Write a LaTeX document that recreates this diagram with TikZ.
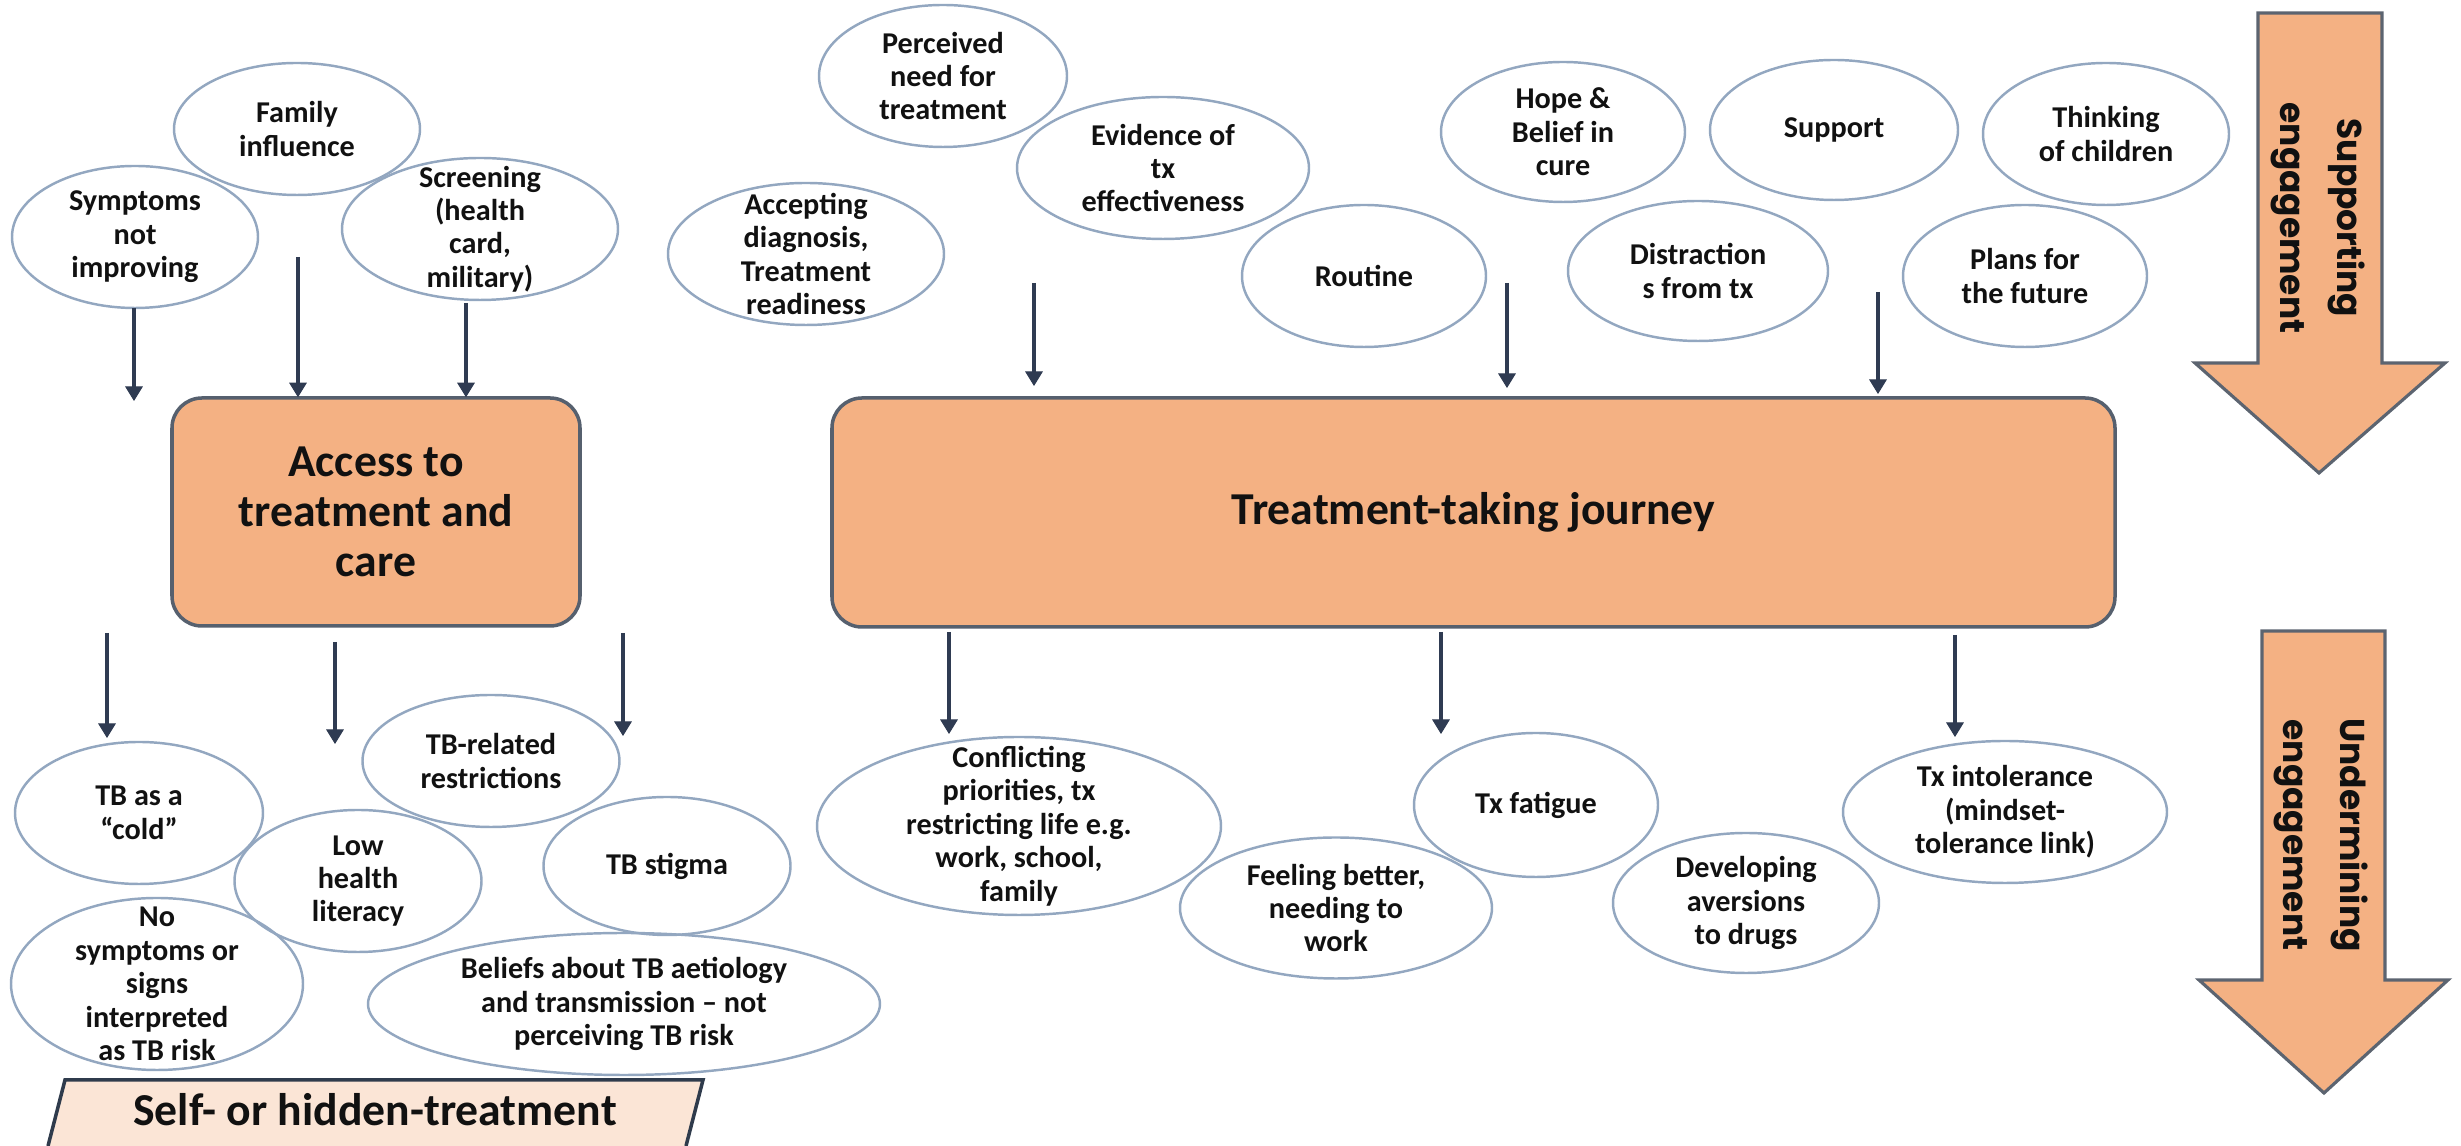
\documentclass[tikz,border=0pt]{standalone}
\usepackage{fontspec}
\usetikzlibrary{shapes.geometric}
\setmainfont{Carlito}
\newfontfamily\arrowfont{Poppins}

\definecolor{boxfill}{HTML}{F4B183}
\definecolor{boxline}{HTML}{56606E}
\definecolor{bubbleline}{HTML}{93A7C0}
\definecolor{flowline}{HTML}{2F3B52}
\definecolor{bigline}{HTML}{5C6470}
\definecolor{selffill}{HTML}{FBE5D6}
\definecolor{selfline}{HTML}{2F3B4C}
\definecolor{txt}{HTML}{111111}

\begin{document}
\begin{tikzpicture}[
  bubble/.style={ellipse, draw=bubbleline, line width=0.7pt, inner xsep=-3cm, inner ysep=-3cm,
    align=center, text=txt, font=\fontsize{8.6}{9.5}\selectfont\bfseries},
  stage/.style={draw=boxline, line width=1pt, fill=boxfill, rounded corners=0.3cm,
    align=center, text=txt, font=\fontsize{13}{14.2}\selectfont\bfseries},
  flow/.style={draw=flowline, line width=1pt},
  tip/.style={draw=flowline, fill=flowline, line width=0.3pt},
  bigarrow/.style={draw=bigline, line width=0.9pt, fill=boxfill},
  arrowtext/.style={rotate=-90, align=center, text=txt, font=\arrowfont\fontsize{9.8}{16.2}\selectfont\bfseries}
]
\useasboundingbox (0,0) rectangle (24.61,11.46);
%\draw [lightgray](0,0) grid (24, 11);

% the two stages
\node [stage, minimum width=4.08cm, minimum height=2.28cm] (access) at (3.76,6.34) {Access to\\treatment and\\care};
\node [stage, minimum width=12.83cm, minimum height=2.29cm] (journey) at (14.735,6.335) {Treatment-taking journey};

% factors before access
\node [bubble, minimum width=2.46cm, minimum height=1.42cm] (symp) at (1.35,9.09) {Symptoms\\not\\improving};
\node [bubble, minimum width=2.46cm, minimum height=1.32cm] (fam) at (2.97,10.17) {Family\\influence};
\node [bubble, minimum width=2.76cm, minimum height=1.42cm] (scr) at (4.80,9.17) {Screening\\(health\\card,\\military)};

% factors supporting the journey
\node [bubble, minimum width=2.48cm, minimum height=1.42cm] (perc) at (9.43,10.70) {Perceived\\need for\\treatment};
\node [bubble, minimum width=2.92cm, minimum height=1.42cm] (evid) at (11.63,9.78) {Evidence of\\tx\\effectiveness};
\node [bubble, minimum width=2.76cm, minimum height=1.42cm] (accept) at (8.06,8.92) {Accepting\\diagnosis,\\Treatment\\readiness};
\node [bubble, minimum width=2.44cm, minimum height=1.42cm] (rout) at (13.64,8.70) {Routine};
\node [bubble, minimum width=2.44cm, minimum height=1.40cm] (hope) at (15.63,10.14) {Hope \&\\Belief in\\cure};
\node [bubble, minimum width=2.48cm, minimum height=1.40cm] (supp) at (18.34,10.16) {Support};
\node [bubble, minimum width=2.46cm, minimum height=1.42cm] (think) at (21.06,10.12) {Thinking\\of children};
\node [bubble, minimum width=2.60cm, minimum height=1.40cm] (dist) at (16.98,8.75) {Distraction\\s from tx};
\node [bubble, minimum width=2.44cm, minimum height=1.42cm] (plans) at (20.25,8.70) {Plans for\\the future};

% factors after access
\node [bubble, minimum width=2.48cm, minimum height=1.42cm] (cold) at (1.39,3.33) {TB as a\\“cold”};
\node [bubble, minimum width=2.57cm, minimum height=1.32cm] (restr) at (4.91,3.85) {TB-related\\restrictions};
\node [bubble, minimum width=2.47cm, minimum height=1.42cm] (lit) at (3.58,2.65) {Low\\health\\literacy};
\node [bubble, minimum width=2.47cm, minimum height=1.38cm] (stigma) at (6.67,2.80) {TB stigma};
\node [bubble, minimum width=2.92cm, minimum height=1.72cm] (nosym) at (1.57,1.62) {No\\symptoms or\\signs\\interpreted\\as TB risk};
\node [bubble, minimum width=5.12cm, minimum height=1.42cm] (belief) at (6.24,1.42) {Beliefs about TB aetiology\\and transmission – not\\perceiving TB risk};

% factors undermining the journey
\node [bubble, minimum width=4.04cm, minimum height=1.78cm] (confl) at (10.19,3.20) {Conflicting\\priorities, tx\\restricting life e.g.\\work, school,\\family};
\node [bubble, minimum width=3.12cm, minimum height=1.41cm] (feel) at (13.36,2.38) {Feeling better,\\needing to\\work};
\node [bubble, minimum width=2.44cm, minimum height=1.44cm] (fatig) at (15.36,3.41) {Tx fatigue};
\node [bubble, minimum width=2.66cm, minimum height=1.40cm] (aver) at (17.46,2.43) {Developing\\aversions\\to drugs};
\node [bubble, minimum width=3.24cm, minimum height=1.42cm] (intol) at (20.05,3.34) {Tx intolerance\\(mindset-\\tolerance link)};

% self- or hidden-treatment, cut by the page edge
\fill [selffill] (0.48,0) -- (0.65,0.66) -- (7.03,0.66) -- (6.86,0) -- cycle;
\draw [selfline, line width=1pt] (0.48,0) -- (0.65,0.66) -- (7.03,0.66) -- (6.86,0);
\node [text=txt, font=\fontsize{13}{14.2}\selectfont\bfseries] (self) at (3.75,0.36) {Self- or hidden-treatment};

% arrows into access
\coordinate (acsA-s) at (1.34,8.38);
\coordinate (acsA-e) at (1.34,7.46);
\coordinate (acsB-s) at (2.98,8.89);
\coordinate (acsC-s) at (4.66,8.43);
\draw [flow] (acsA-s) -- ([yshift=1mm]acsA-e);
\draw [tip] (acsA-e) -- ++(-0.08,0.13) -- ++(0.16,0) -- cycle;
\draw [flow] (acsB-s) -- ([yshift=1mm]acsB-s |- access.north);
\draw [tip] (acsB-s |- access.north) -- ++(-0.08,0.13) -- ++(0.16,0) -- cycle;
\draw [flow] (acsC-s) -- ([yshift=1mm]acsC-s |- access.north);
\draw [tip] (acsC-s |- access.north) -- ++(-0.08,0.13) -- ++(0.16,0) -- cycle;

% arrows into the journey
\coordinate (jrnA-s) at (10.34,8.63);
\coordinate (jrnA-e) at (10.34,7.61);
\coordinate (jrnB-s) at (15.07,8.63);
\coordinate (jrnB-e) at (15.07,7.59);
\coordinate (jrnC-s) at (18.78,8.54);
\coordinate (jrnC-e) at (18.78,7.53);
\draw [flow] (jrnA-s) -- ([yshift=1mm]jrnA-e);
\draw [tip] (jrnA-e) -- ++(-0.08,0.13) -- ++(0.16,0) -- cycle;
\draw [flow] (jrnB-s) -- ([yshift=1mm]jrnB-e);
\draw [tip] (jrnB-e) -- ++(-0.08,0.13) -- ++(0.16,0) -- cycle;
\draw [flow] (jrnC-s) -- ([yshift=1mm]jrnC-e);
\draw [tip] (jrnC-e) -- ++(-0.08,0.13) -- ++(0.16,0) -- cycle;

% arrows out of access
\coordinate (acsD-s) at (1.07,5.13);
\coordinate (acsD-e) at (1.07,4.09);
\coordinate (acsE-s) at (3.35,5.04);
\coordinate (acsE-e) at (3.35,4.03);
\coordinate (acsF-s) at (6.23,5.13);
\coordinate (acsF-e) at (6.23,4.11);
\draw [flow] (acsD-s) -- ([yshift=1mm]acsD-e);
\draw [tip] (acsD-e) -- ++(-0.08,0.13) -- ++(0.16,0) -- cycle;
\draw [flow] (acsE-s) -- ([yshift=1mm]acsE-e);
\draw [tip] (acsE-e) -- ++(-0.08,0.13) -- ++(0.16,0) -- cycle;
\draw [flow] (acsF-s) -- ([yshift=1mm]acsF-e);
\draw [tip] (acsF-e) -- ++(-0.08,0.13) -- ++(0.16,0) -- cycle;

% arrows out of the journey
\coordinate (jrnD-s) at (9.49,5.14);
\coordinate (jrnD-e) at (9.49,4.13);
\coordinate (jrnE-s) at (14.41,5.14);
\coordinate (jrnE-e) at (14.41,4.13);
\coordinate (jrnF-s) at (19.55,5.11);
\coordinate (jrnF-e) at (19.55,4.10);
\draw [flow] (jrnD-s) -- ([yshift=1mm]jrnD-e);
\draw [tip] (jrnD-e) -- ++(-0.08,0.13) -- ++(0.16,0) -- cycle;
\draw [flow] (jrnE-s) -- ([yshift=1mm]jrnE-e);
\draw [tip] (jrnE-e) -- ++(-0.08,0.13) -- ++(0.16,0) -- cycle;
\draw [flow] (jrnF-s) -- ([yshift=1mm]jrnF-e);
\draw [tip] (jrnF-e) -- ++(-0.08,0.13) -- ++(0.16,0) -- cycle;

% big arrows on the right
\draw [bigarrow] (22.58,11.33) -- (23.82,11.33) -- (23.82,7.83) -- (24.45,7.83) -- (23.19,6.73) -- (21.95,7.83) -- (22.58,7.83) -- cycle;
\node [arrowtext] (suptext) at (23.18,9.28) {Supporting\\engagement};
\draw [bigarrow] (22.62,5.15) -- (23.85,5.15) -- (23.85,1.66) -- (24.48,1.66) -- (23.24,0.53) -- (21.99,1.66) -- (22.62,1.66) -- cycle;
\node [arrowtext] (undtext) at (23.21,3.11) {Undermining\\engagement};

\end{tikzpicture}
\end{document}
